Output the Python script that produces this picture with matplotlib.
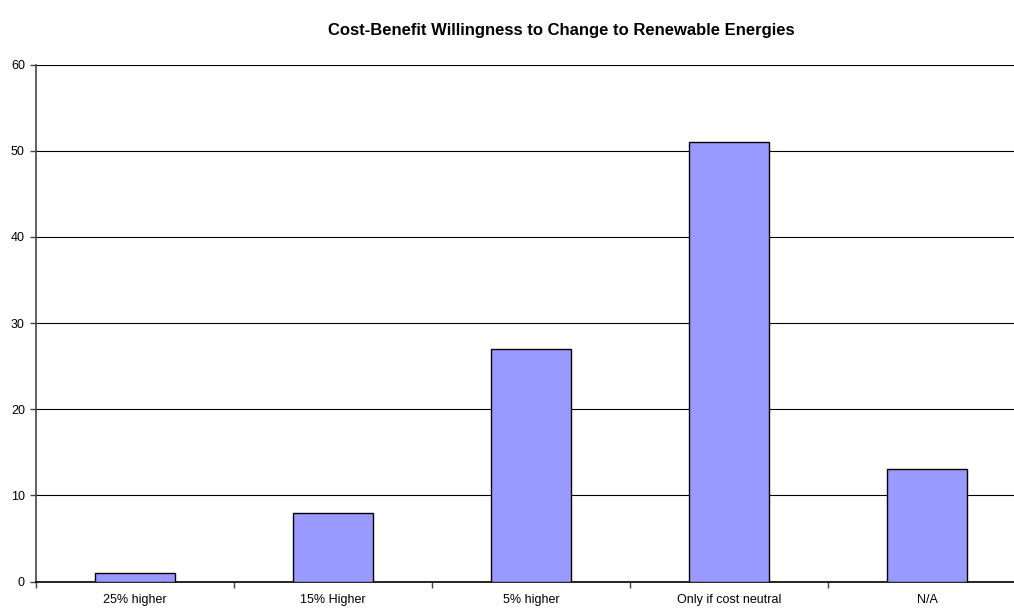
import numpy as np
import matplotlib
matplotlib.use("Agg")
import matplotlib.pyplot as plt

plt.rcParams['font.family'] = ['Liberation Sans', 'DejaVu Sans']

categories = ["25% higher", "15% Higher", "5% higher", "Only if cost neutral", "N/A"]
responses = [1, 8, 27, 51, 13]
y_ticks = [0, 10, 20, 30, 40, 50, 60]

fig = plt.figure(figsize=(10.14, 6.10), dpi=100)
# plot area runs past the right edge of the figure
ax = fig.add_axes([36 / 1014, (610 - 581.5) / 610, 990 / 1014, 517 / 610])

x = np.arange(len(categories))
ax.bar(x, responses, width=0.4, color="#9999FF", edgecolor="black", linewidth=1.0, zorder=3)

ax.set_xlim(-0.5, len(categories) - 0.5)
ax.set_ylim(0, 60)
ax.set_yticks(y_ticks)
ax.set_yticklabels([str(v) for v in y_ticks], fontsize=9)
ax.yaxis.grid(True, color="black", linewidth=0.8, zorder=0)

# category labels centred, tick marks between categories
ax.set_xticks(x)
ax.set_xticklabels(categories, fontsize=9)
ax.tick_params(axis="x", length=0, pad=9)
ax.set_xticks(np.arange(len(categories) + 1) - 0.5, minor=True)
ax.tick_params(axis="x", which="minor", length=4, width=1, color="#444444")
ax.tick_params(axis="y", length=4, width=1, color="#444444", pad=4)

for s in ["top", "right"]:
    ax.spines[s].set_visible(False)
ax.spines["left"].set_color("#444444")
ax.spines["bottom"].set_color("black")
ax.spines["left"].set_linewidth(1.2)
ax.spines["bottom"].set_linewidth(1.2)

fig.text(561 / 1014, 1 - 30 / 610, "Cost-Benefit Willingness to Change to Renewable Energies",
         ha="center", va="center", fontsize=12, fontweight="bold")

fig.savefig("out.png", dpi=100)
